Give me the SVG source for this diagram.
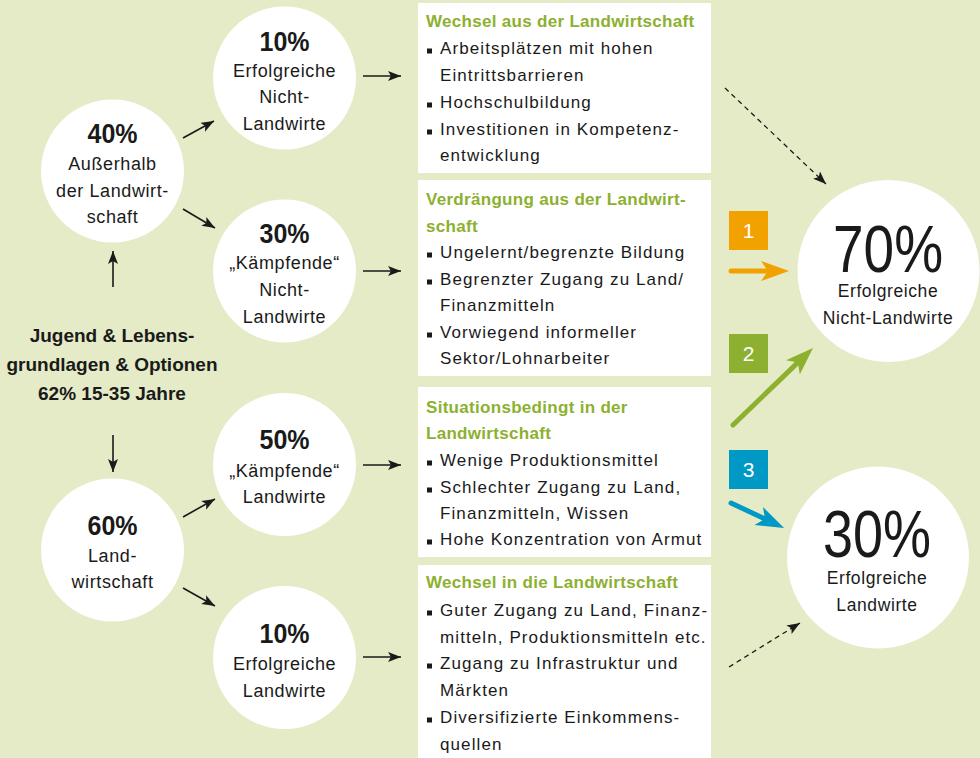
<svg xmlns="http://www.w3.org/2000/svg" width="980" height="758" viewBox="0 0 980 758">
  <defs>
    <style>
      .t { font-family: "Liberation Sans", Arial, sans-serif; fill: #1a1a1a; }
      .pct { font-size: 28px; font-weight: bold; text-anchor: middle; }
      .lbl { font-size: 18px; letter-spacing: 0.6px; text-anchor: middle; }
      .big { font-size: 66px; text-anchor: middle; }
      .bigl { font-size: 17.5px; letter-spacing: 0.6px; text-anchor: middle; }
      .lead { font-size: 19px; font-weight: bold; text-anchor: middle; }
      .ttl { font-size: 17px; font-weight: bold; fill: #8DB030; letter-spacing: 0.3px; }
      .item { font-size: 17px; letter-spacing: 1.1px; }
      .num { font-family: "Liberation Sans", Arial, sans-serif; font-size: 21px; fill: #ffffff; text-anchor: middle; }
      .node circle { fill: #ffffff; }
      .box rect.panel { fill: #ffffff; }
      .bul { fill: #1a1a1a; }
      .link { stroke: #1a1a1a; stroke-width: 1.6; fill: none; }
      .dash { stroke: #1a1a1a; stroke-width: 1.3; fill: none; stroke-dasharray: 5 4; }
      .flow { stroke-width: 5; fill: none; stroke-linecap: round; }
    </style>
    <marker id="head" markerUnits="userSpaceOnUse" markerWidth="14" markerHeight="11" refX="13" refY="5" orient="auto">
      <path d="M0,0 L13,5 L0,10 L3,5 Z" fill="#1a1a1a"/>
    </marker>
    <marker id="headOrange" markerUnits="userSpaceOnUse" markerWidth="30" markerHeight="21" refX="18" refY="10" orient="auto">
      <path d="M0,0 L28,10 L0,20 L7,10 Z" fill="#F2A200"/>
    </marker>
    <marker id="headGreen" markerUnits="userSpaceOnUse" markerWidth="30" markerHeight="21" refX="18" refY="10" orient="auto">
      <path d="M0,0 L28,10 L0,20 L7,10 Z" fill="#8DB030"/>
    </marker>
    <marker id="headBlue" markerUnits="userSpaceOnUse" markerWidth="30" markerHeight="21" refX="18" refY="10" orient="auto">
      <path d="M0,0 L28,10 L0,20 L7,10 Z" fill="#0098C4"/>
    </marker>
  </defs>

  <rect x="0" y="0" width="980" height="758" fill="#E4EBC6"/>

  <!-- starting point -->
  <g id="youth">
    <text class="t lead" x="112" y="342">Jugend &amp; Lebens-</text>
    <text class="t lead" x="112" y="371">grundlagen &amp; Optionen</text>
    <text class="t lead" x="112" y="400">62% 15-35 Jahre</text>
  </g>

  <!-- first split -->
  <g id="outside" class="node">
    <circle cx="112.5" cy="171" r="71.5"/>
    <text class="t pct" x="112.5" y="143" textLength="50" lengthAdjust="spacingAndGlyphs">40%</text>
    <text class="t lbl" x="112.5" y="170">Außerhalb</text>
    <text class="t lbl" x="112.5" y="197">der Landwirt-</text>
    <text class="t lbl" x="112.5" y="223">schaft</text>
  </g>
  <g id="farming" class="node">
    <circle cx="112.5" cy="550" r="71.5"/>
    <text class="t pct" x="112.5" y="535" textLength="50" lengthAdjust="spacingAndGlyphs">60%</text>
    <text class="t lbl" x="112.5" y="562">Land-</text>
    <text class="t lbl" x="112.5" y="588">wirtschaft</text>
  </g>

  <!-- second split -->
  <g id="nonfarm-success" class="node">
    <circle cx="284.5" cy="78" r="71.5"/>
    <text class="t pct" x="284.5" y="51" textLength="50" lengthAdjust="spacingAndGlyphs">10%</text>
    <text class="t lbl" x="284.5" y="77">Erfolgreiche</text>
    <text class="t lbl" x="284.5" y="103">Nicht-</text>
    <text class="t lbl" x="284.5" y="130">Landwirte</text>
  </g>
  <g id="nonfarm-struggling" class="node">
    <circle cx="284.5" cy="271" r="71.5"/>
    <text class="t pct" x="284.5" y="243" textLength="50" lengthAdjust="spacingAndGlyphs">30%</text>
    <text class="t lbl" x="284.5" y="269">„Kämpfende“</text>
    <text class="t lbl" x="284.5" y="296">Nicht-</text>
    <text class="t lbl" x="284.5" y="323">Landwirte</text>
  </g>
  <g id="farm-struggling" class="node">
    <circle cx="284.5" cy="464.5" r="71.5"/>
    <text class="t pct" x="284.5" y="449" textLength="50" lengthAdjust="spacingAndGlyphs">50%</text>
    <text class="t lbl" x="284.5" y="477">„Kämpfende“</text>
    <text class="t lbl" x="284.5" y="503">Landwirte</text>
  </g>
  <g id="farm-success" class="node">
    <circle cx="284.5" cy="657.5" r="71.5"/>
    <text class="t pct" x="284.5" y="643" textLength="50" lengthAdjust="spacingAndGlyphs">10%</text>
    <text class="t lbl" x="284.5" y="670">Erfolgreiche</text>
    <text class="t lbl" x="284.5" y="697">Landwirte</text>
  </g>

  <!-- pathway panels -->
  <g id="exit-farming" class="box">
    <rect class="panel" x="418" y="3" width="293" height="170"/>
    <text class="t ttl" x="426" y="26.5">Wechsel aus der Landwirtschaft</text>
    <rect class="bul" x="427" y="48.5" width="5" height="5"/>
    <text class="t item" x="440" y="53.5">Arbeitsplätzen mit hohen</text>
    <text class="t item" x="440" y="80.5">Eintrittsbarrieren</text>
    <rect class="bul" x="427" y="102.5" width="5" height="5"/>
    <text class="t item" x="440" y="107.5">Hochschulbildung</text>
    <rect class="bul" x="427" y="129.5" width="5" height="5"/>
    <text class="t item" x="440" y="134.5">Investitionen in Kompetenz-</text>
    <text class="t item" x="440" y="160.5">entwicklung</text>
  </g>
  <g id="pushed-out" class="box">
    <rect class="panel" x="418" y="180" width="293" height="196"/>
    <text class="t ttl" x="426" y="204.5">Verdrängung aus der Landwirt-</text>
    <text class="t ttl" x="426" y="231.5">schaft</text>
    <rect class="bul" x="427" y="252.5" width="5" height="5"/>
    <text class="t item" x="440" y="257.5">Ungelernt/begrenzte Bildung</text>
    <rect class="bul" x="427" y="279.5" width="5" height="5"/>
    <text class="t item" x="440" y="284.5">Begrenzter Zugang zu Land/</text>
    <text class="t item" x="440" y="310.5">Finanzmitteln</text>
    <rect class="bul" x="427" y="332.5" width="5" height="5"/>
    <text class="t item" x="440" y="337.5">Vorwiegend informeller</text>
    <text class="t item" x="440" y="363.5">Sektor/Lohnarbeiter</text>
  </g>
  <g id="situational" class="box">
    <rect class="panel" x="418" y="387" width="293" height="170"/>
    <text class="t ttl" x="426" y="412.5">Situationsbedingt in der</text>
    <text class="t ttl" x="426" y="438.5">Landwirtschaft</text>
    <rect class="bul" x="427" y="460.5" width="5" height="5"/>
    <text class="t item" x="440" y="465.5">Wenige Produktionsmittel</text>
    <rect class="bul" x="427" y="487.5" width="5" height="5"/>
    <text class="t item" x="440" y="492.5">Schlechter Zugang zu Land,</text>
    <text class="t item" x="440" y="518.5">Finanzmitteln, Wissen</text>
    <rect class="bul" x="427" y="539.5" width="5" height="5"/>
    <text class="t item" x="440" y="544.5">Hohe Konzentration von Armut</text>
  </g>
  <g id="enter-farming" class="box">
    <rect class="panel" x="418" y="565" width="293" height="193"/>
    <text class="t ttl" x="426" y="587.5">Wechsel in die Landwirtschaft</text>
    <rect class="bul" x="427" y="610.5" width="5" height="5"/>
    <text class="t item" x="440" y="615.5">Guter Zugang zu Land, Finanz-</text>
    <text class="t item" x="440" y="642.5">mitteln, Produktionsmitteln etc.</text>
    <rect class="bul" x="427" y="663.5" width="5" height="5"/>
    <text class="t item" x="440" y="668.5">Zugang zu Infrastruktur und</text>
    <text class="t item" x="440" y="695.5">Märkten</text>
    <rect class="bul" x="427" y="717.5" width="5" height="5"/>
    <text class="t item" x="440" y="722.5">Diversifizierte Einkommens-</text>
    <text class="t item" x="440" y="749.5">quellen</text>
  </g>

  <!-- outcomes -->
  <g id="outcome-nonfarm" class="node">
    <circle cx="888.5" cy="271" r="91"/>
    <text class="t big" x="888" y="272" textLength="110" lengthAdjust="spacingAndGlyphs">70%</text>
    <text class="t bigl" x="888" y="297">Erfolgreiche</text>
    <text class="t bigl" x="888" y="324">Nicht-Landwirte</text>
  </g>
  <g id="outcome-farm" class="node">
    <circle cx="878" cy="557.5" r="91"/>
    <text class="t big" x="877" y="557" textLength="108" lengthAdjust="spacingAndGlyphs">30%</text>
    <text class="t bigl" x="877" y="584">Erfolgreiche</text>
    <text class="t bigl" x="877" y="611">Landwirte</text>
  </g>

  <!-- numbered pathways -->
  <g id="badge-1">
    <rect x="729" y="211" width="39" height="39" fill="#F2A200"/>
    <text class="num" x="748.5" y="238">1</text>
  </g>
  <g id="badge-2">
    <rect x="729" y="334" width="39" height="39" fill="#8DB030"/>
    <text class="num" x="748.5" y="361">2</text>
  </g>
  <g id="badge-3">
    <rect x="729" y="450" width="39" height="39" fill="#0098C4"/>
    <text class="num" x="748.5" y="477">3</text>
  </g>

  <!-- connectors -->
  <g id="connectors">
    <line class="link" x1="113" y1="287" x2="113" y2="251" marker-end="url(#head)"/>
    <line class="link" x1="113" y1="435" x2="113" y2="472" marker-end="url(#head)"/>
    <line class="link" x1="183" y1="138" x2="214" y2="121" marker-end="url(#head)"/>
    <line class="link" x1="183" y1="209" x2="215" y2="228" marker-end="url(#head)"/>
    <line class="link" x1="183" y1="517" x2="215" y2="499" marker-end="url(#head)"/>
    <line class="link" x1="183" y1="588" x2="215" y2="606" marker-end="url(#head)"/>
    <line class="link" x1="363" y1="76" x2="401" y2="76" marker-end="url(#head)"/>
    <line class="link" x1="363" y1="271" x2="401" y2="271" marker-end="url(#head)"/>
    <line class="link" x1="363" y1="465" x2="401" y2="465" marker-end="url(#head)"/>
    <line class="link" x1="363" y1="657" x2="401" y2="657" marker-end="url(#head)"/>
    <line class="dash" x1="725" y1="88" x2="826" y2="184" marker-end="url(#head)"/>
    <line class="dash" x1="729" y1="667" x2="800" y2="623" marker-end="url(#head)"/>
    <line class="flow" stroke="#F2A200" x1="731" y1="271" x2="779" y2="271" marker-end="url(#headOrange)"/>
    <line class="flow" stroke="#8DB030" x1="733" y1="425" x2="805.8" y2="354.9" marker-end="url(#headGreen)"/>
    <line class="flow" stroke="#0098C4" x1="731" y1="503" x2="775" y2="523.7" marker-end="url(#headBlue)"/>
  </g>
</svg>
